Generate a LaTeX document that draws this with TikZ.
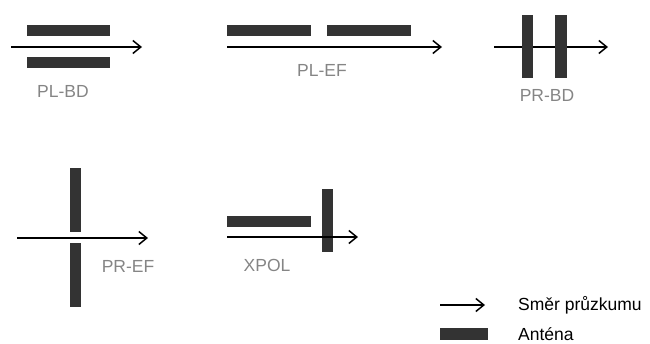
\documentclass[tikz,border=0pt]{standalone}
\usepackage{fontspec}
\setmainfont{Liberation Sans}
\usetikzlibrary{arrows.meta}
\definecolor{barc}{HTML}{333333}
\definecolor{labc}{HTML}{858585}
\tikzset{
  dir/.style={line width=1.5pt,-{Straight Barb[length=8pt,width=13pt,line width=1.5pt]}},
  ant/.style={fill=barc,draw=none},
  lab/.style={anchor=base,text=labc,font=\fontsize{17.5}{20}\selectfont,inner sep=0pt},
  leg/.style={anchor=base west,text=black,font=\fontsize{17.5}{20}\selectfont,inner sep=0pt}
}
\begin{document}
\begin{tikzpicture}[x=1pt,y=-1pt]
\useasboundingbox (0,0) rectangle (650,343);
% PL-BD
\coordinate (a1s) at (11,47); \coordinate (a1e) at (142,47);
\draw[dir] (a1s) -- (a1e);
\fill[ant] (27,25) rectangle (110,36);
\fill[ant] (27,57) rectangle (110,68);
\node[lab] (l1) at (63,97) {PL-BD};
% PL-EF
\coordinate (a2s) at (227,47); \coordinate (a2e) at (442,47);
\draw[dir] (a2s) -- (a2e);
\fill[ant] (227,25) rectangle (311,36);
\fill[ant] (327,25) rectangle (411,36);
\node[lab] (l2) at (322,76) {PL-EF};
% PR-BD
\coordinate (a3s) at (494,47); \coordinate (a3e) at (608,47);
\draw[dir] (a3s) -- (a3e);
\fill[ant] (522,15) rectangle (533,78);
\fill[ant] (555,15) rectangle (567,78);
\node[lab] (l3) at (547,101) {PR-BD};
% PR-EF
\coordinate (a4s) at (17,238); \coordinate (a4e) at (148,238);
\draw[dir] (a4s) -- (a4e);
\fill[ant] (70,168) rectangle (81,232);
\fill[ant] (70,243) rectangle (81,307);
\node[lab] (l4) at (128,272) {PR-EF};
% XPOL
\coordinate (a5s) at (227,237); \coordinate (a5e) at (358,237);
\fill[ant] (227,216) rectangle (311,227);
\fill[ant] (322,189) rectangle (333,252);
\draw[dir] (a5s) -- (a5e);
\node[lab] (l5) at (267,271) {XPOL};
% legend
\coordinate (lgs) at (440,305); \coordinate (lge) at (485,305);
\draw[dir] (lgs) -- (lge);
\fill[ant] (440,328) rectangle (488,340);
\node[leg] (t1) at (518,310) {Směr průzkumu};
\node[leg] (t2) at (518,340) {Anténa};
\end{tikzpicture}
\end{document}
